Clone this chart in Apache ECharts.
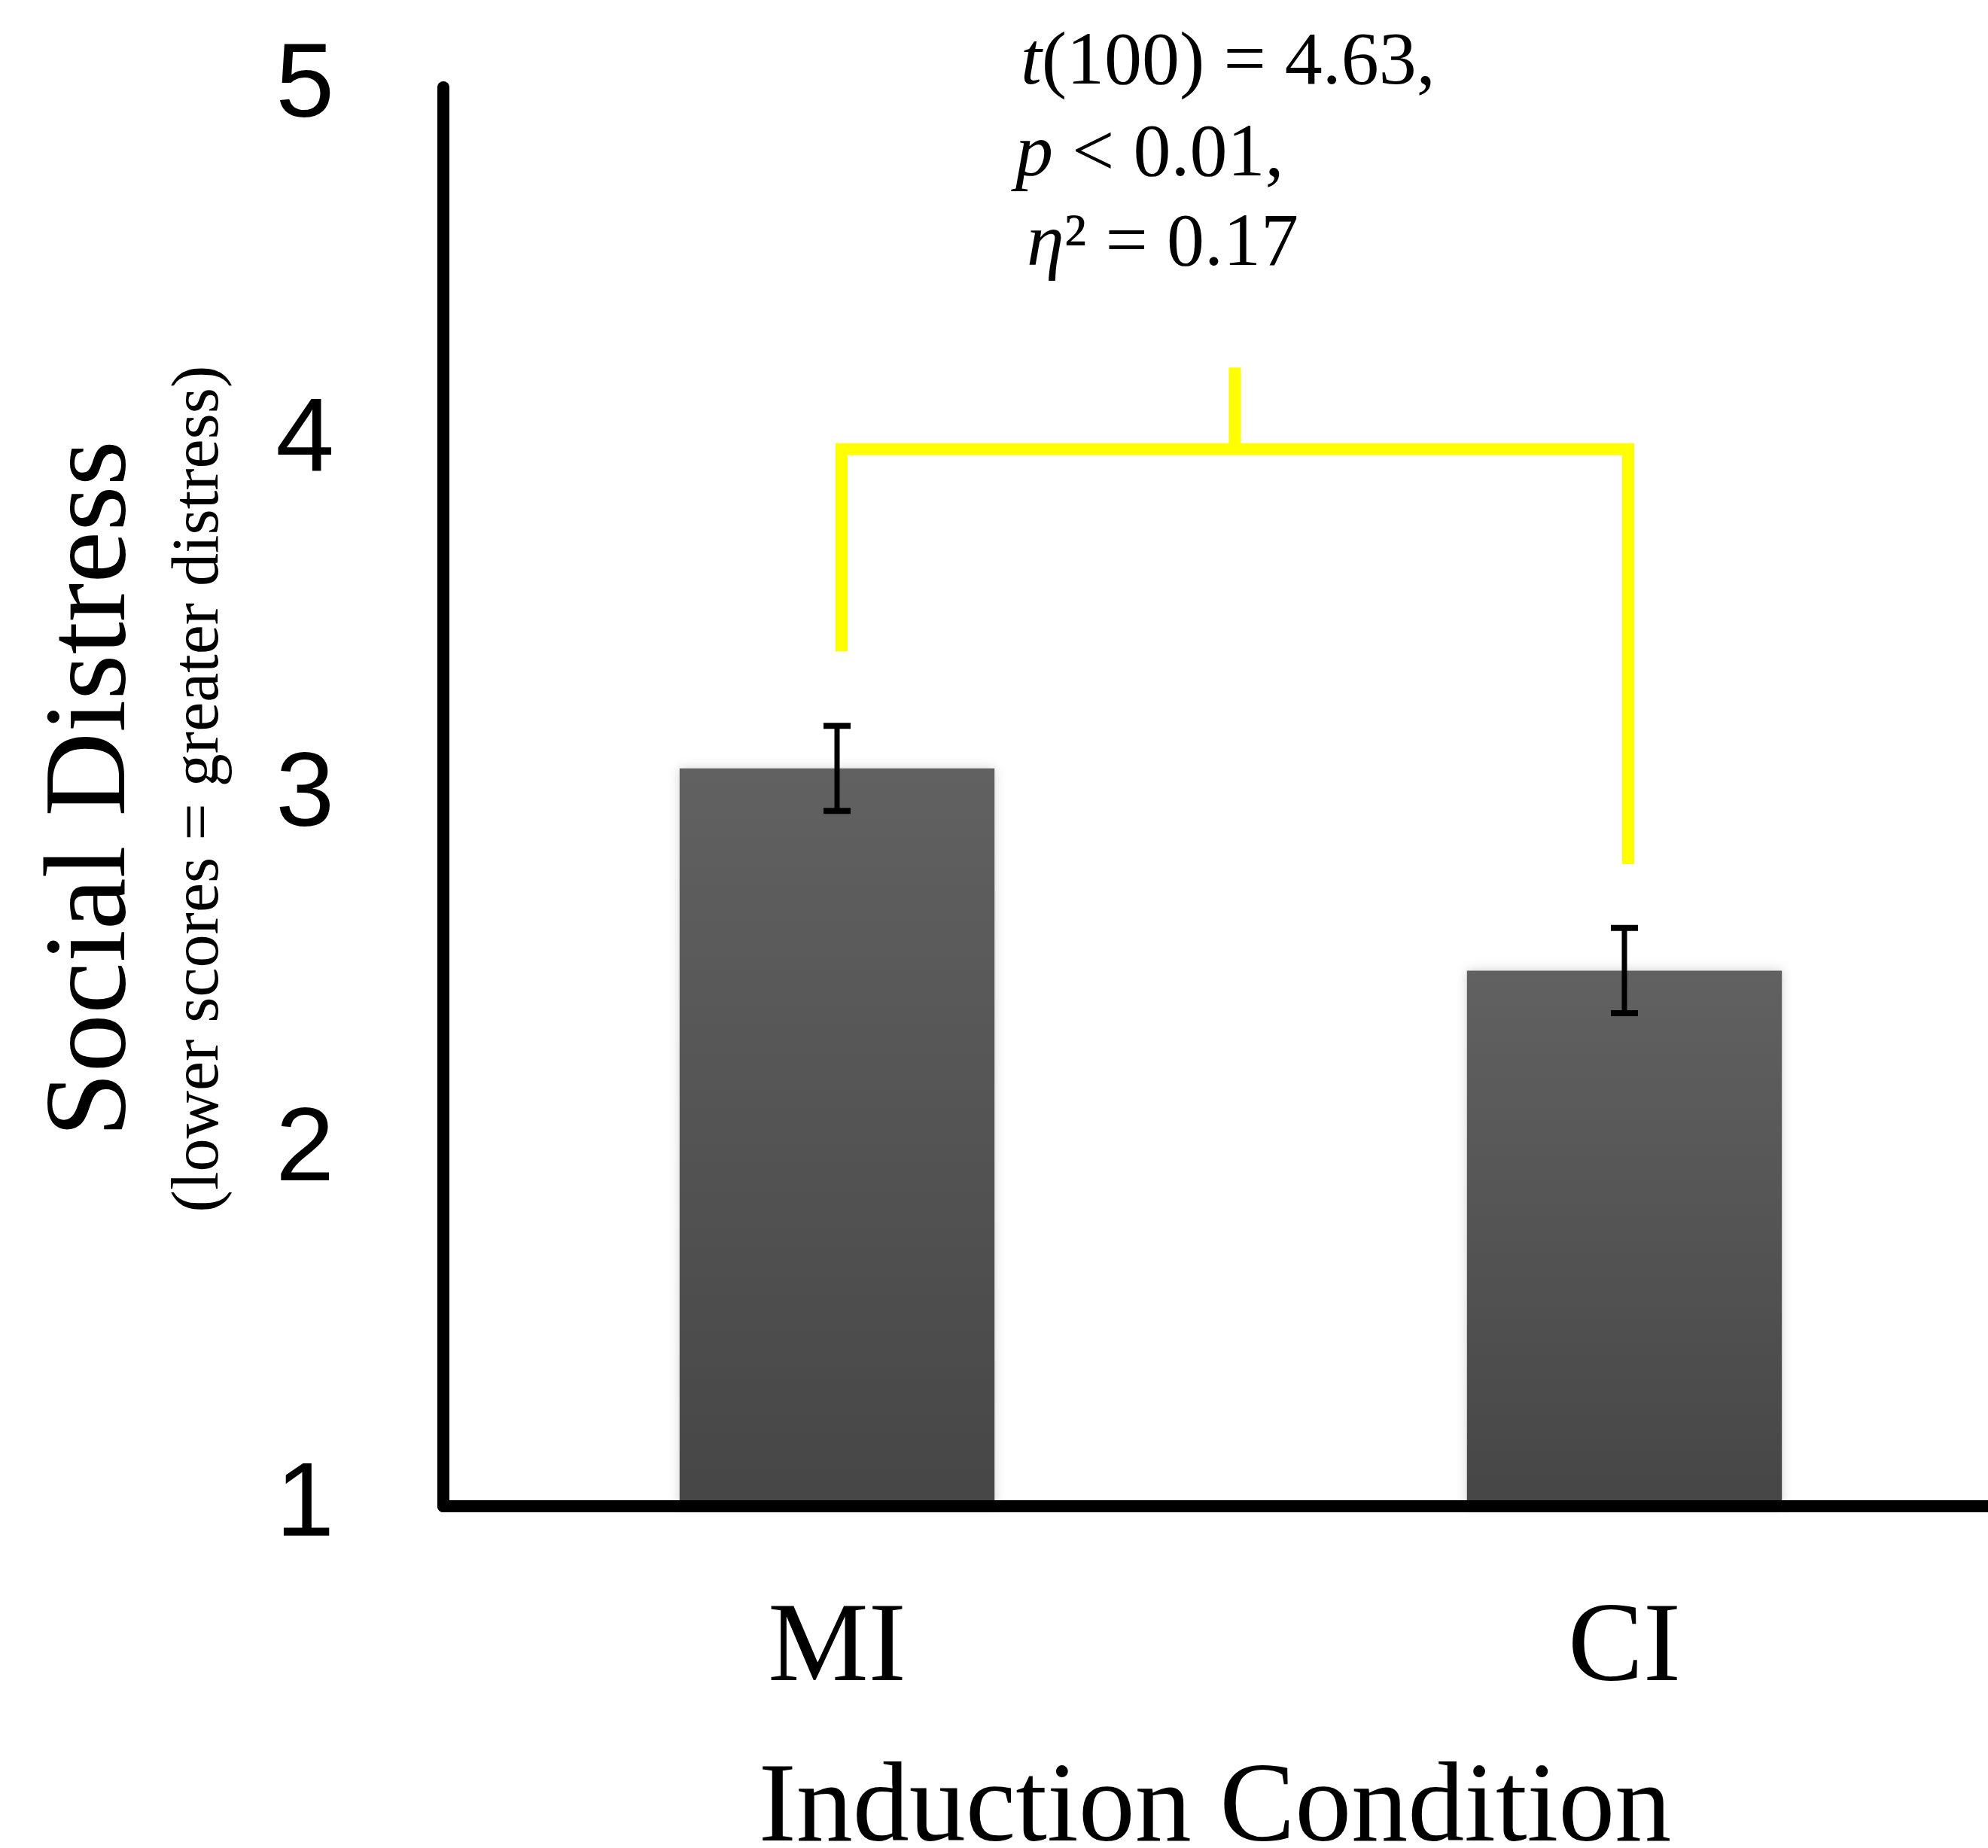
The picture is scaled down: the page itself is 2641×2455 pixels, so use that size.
<!DOCTYPE html>
<html>
<head>
<meta charset="utf-8">
<script src="https://cdn.jsdelivr.net/npm/echarts@6/dist/echarts.min.js"></script>
<style>
  html, body { margin: 0; padding: 0; background: #fff; overflow: hidden; }
  #main { width: 2641px; height: 2455px; }
</style>
</head>
<body>
<div id="main"></div>
<script>
// data
var conditions = ['MI', 'CI'];
var meanDistress = [3.08, 2.51];
var stdErr = [0.12, 0.12];
var yTicks = [1, 5, 1]; // min, max, step

// significance bracket: [bar, peak, left leg end, right leg end]
var bracketLevels = [3.98, 4.21, 3.41, 2.81];

var statLines = ['{i|t}(100) = 4.63,', '{i|p} < 0.01,', '{i|η}² = 0.17'];

var serif = '"Liberation Serif", "Times New Roman", serif';

var myChart = echarts.init(document.getElementById('main'));

var errData = meanDistress.map(function (m, i) {
  return [i, m - stdErr[i], m + stdErr[i]];
});

function statText(x, y, txt) {
  return {
    type: 'text', x: x, y: y,
    style: {
      text: txt, font: '100px ' + serif, fill: '#000', align: 'left', verticalAlign: 'middle',
      rich: { i: { fontStyle: 'italic', fontFamily: serif, fontSize: 100 } }
    }
  };
}

var option = {
  backgroundColor: '#fff',
  animation: false,
  grid: { left: 589, top: 116, width: 2092, bottom: 454, outerBoundsMode: 'none' },
  xAxis: {
    type: 'category',
    data: conditions,
    z: 10,
    axisLine: { lineStyle: { color: '#000', width: 16 } },
    axisTick: { show: false },
    axisLabel: { color: '#000', fontFamily: serif, fontSize: 150, margin: 117 },
    name: 'Induction Condition',
    nameLocation: 'middle',
    nameGap: 330,
    nameTextStyle: { color: '#000', fontFamily: serif, fontSize: 150, padding: [0, 42, 0, 0] }
  },
  yAxis: {
    type: 'value',
    min: yTicks[0],
    max: yTicks[1],
    interval: yTicks[2],
    z: 10,
    splitLine: { show: false },
    axisTick: { show: false },
    axisLine: { show: true, lineStyle: { color: '#000', width: 16 } },
    axisLabel: {
      color: '#000',
      fontFamily: '"Liberation Sans Narrow", "Liberation Sans", sans-serif',
      fontSize: 140,
      margin: 145,
      padding: [12, 0, 0, 0]
    }
  },
  graphic: [
    {
      type: 'text', x: 124, y: 1048, rotation: Math.PI / 2,
      style: { text: 'Social Distress', font: '155px ' + serif, fill: '#000', align: 'center', verticalAlign: 'middle' }
    },
    {
      type: 'text', x: 266, y: 1048, rotation: Math.PI / 2,
      style: { text: '(lower scores = greater distress)', font: '88px ' + serif, fill: '#000', align: 'center', verticalAlign: 'middle' }
    },
    statText(1356, 85, statLines[0]),
    statText(1349, 207, statLines[1]),
    statText(1364, 326, statLines[2])
  ],
  series: [
    {
      type: 'bar',
      data: meanDistress,
      barWidth: '40%',
      itemStyle: {
        color: new echarts.graphic.LinearGradient(0, 0, 0, 1, [
          { offset: 0, color: '#616161' },
          { offset: 1, color: '#464646' }
        ]),
        shadowBlur: 14,
        shadowColor: 'rgba(0,0,0,0.18)'
      }
    },
    {
      type: 'custom',
      data: errData,
      z: 5,
      renderItem: function (params, api) {
        var hi = api.coord([api.value(0), api.value(2)]);
        var lo = api.coord([api.value(0), api.value(1)]);
        var w = 18;
        var s = { stroke: '#000', lineWidth: 7 };
        var c = { stroke: '#000', lineWidth: 8 };
        return {
          type: 'group',
          children: [
            { type: 'line', shape: { x1: hi[0], y1: hi[1], x2: lo[0], y2: lo[1] }, style: s },
            { type: 'line', shape: { x1: hi[0] - w, y1: hi[1], x2: hi[0] + w, y2: hi[1] }, style: c },
            { type: 'line', shape: { x1: lo[0] - w, y1: lo[1], x2: lo[0] + w, y2: lo[1] }, style: c }
          ]
        };
      }
    },
    {
      type: 'custom',
      data: [bracketLevels],
      z: 5,
      renderItem: function (params, api) {
        var bar = api.value(0), peak = api.value(1), le = api.value(2), re = api.value(3);
        var l0 = api.coord([0, bar]), l1 = api.coord([0, le]);
        var r0 = api.coord([1, bar]), r1 = api.coord([1, re]);
        var lx = l0[0] + 6, rx = r0[0] + 5;
        var mx = (lx + rx) / 2;
        var p = api.coord([0, peak]);
        var st = { stroke: '#ffff00', lineWidth: 16 };
        return {
          type: 'group',
          children: [
            { type: 'line', shape: { x1: lx - 8, y1: l0[1], x2: rx + 8, y2: r0[1] }, style: st },
            { type: 'line', shape: { x1: lx, y1: l0[1], x2: lx, y2: l1[1] }, style: st },
            { type: 'line', shape: { x1: rx, y1: r0[1], x2: rx, y2: r1[1] }, style: st },
            { type: 'line', shape: { x1: mx, y1: l0[1], x2: mx, y2: p[1] }, style: st }
          ]
        };
      }
    }
  ]
};

myChart.setOption(option);
</script>
</body>
</html>
